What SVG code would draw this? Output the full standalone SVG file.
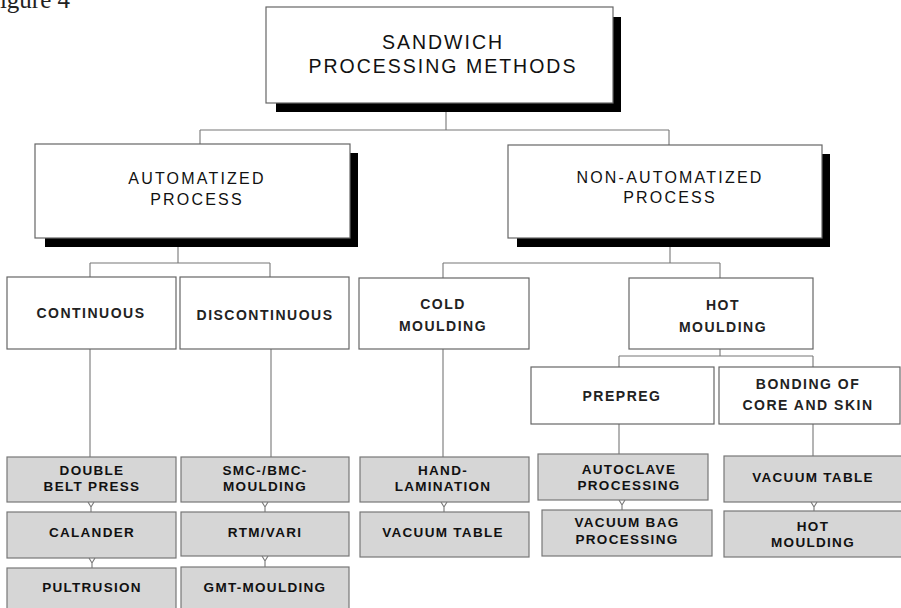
<svg xmlns="http://www.w3.org/2000/svg" width="901" height="608" viewBox="0 0 901 608">
<style>
.box{fill:#fff;stroke:#666;stroke-width:1.2}
.shadow{fill:#000}
.grey{fill:#d6d6d6;stroke:#777;stroke-width:1.2}
.conn{fill:none;stroke:#777;stroke-width:1.1}
.t1{font-family:"Liberation Sans",Arial,sans-serif;font-size:19.5px;letter-spacing:2px;fill:#111;text-anchor:middle}
.t2{font-family:"Liberation Sans",Arial,sans-serif;font-size:16px;letter-spacing:2.2px;fill:#111;text-anchor:middle}
.t3{font-family:"Liberation Sans",Arial,sans-serif;font-size:14px;font-weight:bold;letter-spacing:1.5px;fill:#222;text-anchor:middle}
.t4{font-family:"Liberation Sans",Arial,sans-serif;font-size:13.5px;font-weight:bold;letter-spacing:1.3px;fill:#111;text-anchor:middle}
.cap{font-family:"Liberation Serif","Times New Roman",serif;font-size:25px;fill:#222}
</style>
<rect width="901" height="608" fill="#fff"/>
<text class="cap" x="-14" y="8">Figure 4</text>

<g id="connectors">
  <path class="conn" d="M446 112V130M200 130H669M200 130V144M669 130V145"/>
  <path class="conn" d="M178 247V263M90 263H270M90 263V277M270 263V277"/>
  <path class="conn" d="M670 247V263M443 263H720M443 263V278M720 263V278"/>
  <path class="conn" d="M90 349V457M271 349V457M443 349V457"/>
  <path class="conn" d="M720 349V356M619 356H813M619 356V367M813 356V367"/>
  <path class="conn" d="M619 424V454M813 424V456"/>
  <path class="conn" d="M88 502L91 507L94 502M91 507V512"/>
  <path class="conn" d="M89 558L92 563L95 558M92 563V568"/>
  <path class="conn" d="M262 502L265 507L268 502M265 507V512"/>
  <path class="conn" d="M262 556L265 561L268 556M265 561V567"/>
  <path class="conn" d="M441 502L444 507L447 502M444 507V512"/>
  <path class="conn" d="M619 500L622 505L625 500M622 505V510"/>
  <path class="conn" d="M811 502L814 507L817 502M814 507V511"/>
</g>

<g id="n-sandwich">
  <rect class="shadow" x="276" y="17" width="345" height="95"/>
  <rect class="box" x="266" y="7" width="347" height="96"/>
  <text class="t1" x="443" y="49">SANDWICH</text>
  <text class="t1" x="443" y="73">PROCESSING METHODS</text>
</g>

<g id="n-auto">
  <rect class="shadow" x="45" y="153" width="313" height="94"/>
  <rect class="box" x="35" y="144" width="315" height="94"/>
  <text class="t2" x="197" y="184">AUTOMATIZED</text>
  <text class="t2" x="197" y="205">PROCESS</text>
</g>

<g id="n-nonauto">
  <rect class="shadow" x="517" y="154" width="313" height="93"/>
  <rect class="box" x="508" y="145" width="314" height="93"/>
  <text class="t2" x="670" y="183">NON-AUTOMATIZED</text>
  <text class="t2" x="670" y="203">PROCESS</text>
</g>

<g id="n-continuous">
  <rect class="box" x="7" y="277" width="169" height="72"/>
  <text class="t3" x="91" y="318">CONTINUOUS</text>
</g>
<g id="n-discontinuous">
  <rect class="box" x="180" y="277" width="169" height="72"/>
  <text class="t3" x="265" y="320">DISCONTINUOUS</text>
</g>
<g id="n-cold">
  <rect class="box" x="359" y="278" width="170" height="71"/>
  <text class="t3" x="443" y="309">COLD</text>
  <text class="t3" x="443" y="331">MOULDING</text>
</g>
<g id="n-hot">
  <rect class="box" x="629" y="278" width="184" height="71"/>
  <text class="t3" x="723" y="310">HOT</text>
  <text class="t3" x="723" y="332">MOULDING</text>
</g>
<g id="n-prepreg">
  <rect class="box" x="531" y="367" width="183" height="57"/>
  <text class="t3" x="622" y="401">PREPREG</text>
</g>
<g id="n-bonding">
  <rect class="box" x="719" y="367" width="181" height="57"/>
  <text class="t3" x="808" y="389">BONDING OF</text>
  <text class="t3" x="808" y="410">CORE AND SKIN</text>
</g>

<g id="n-doublebelt">
  <rect class="grey" x="7" y="457" width="169" height="45"/>
  <text class="t4" x="92" y="475">DOUBLE</text>
  <text class="t4" x="92" y="491">BELT PRESS</text>
</g>
<g id="n-calander">
  <rect class="grey" x="7" y="512" width="169" height="46"/>
  <text class="t4" x="92" y="537">CALANDER</text>
</g>
<g id="n-pultrusion">
  <rect class="grey" x="7" y="568" width="169" height="45"/>
  <text class="t4" x="92" y="592">PULTRUSION</text>
</g>
<g id="n-smc">
  <rect class="grey" x="181" y="457" width="168" height="45"/>
  <text class="t4" x="265" y="475">SMC-/BMC-</text>
  <text class="t4" x="265" y="491">MOULDING</text>
</g>
<g id="n-rtm">
  <rect class="grey" x="181" y="512" width="168" height="44"/>
  <text class="t4" x="265" y="537">RTM/VARI</text>
</g>
<g id="n-gmt">
  <rect class="grey" x="181" y="567" width="168" height="46"/>
  <text class="t4" x="265" y="592">GMT-MOULDING</text>
</g>
<g id="n-hand">
  <rect class="grey" x="360" y="457" width="169" height="45"/>
  <text class="t4" x="443" y="475">HAND-</text>
  <text class="t4" x="443" y="491">LAMINATION</text>
</g>
<g id="n-vactable1">
  <rect class="grey" x="360" y="512" width="169" height="45"/>
  <text class="t4" x="443" y="537">VACUUM TABLE</text>
</g>
<g id="n-autoclave">
  <rect class="grey" x="538" y="454" width="170" height="46"/>
  <text class="t4" x="629" y="474">AUTOCLAVE</text>
  <text class="t4" x="629" y="490">PROCESSING</text>
</g>
<g id="n-vacbag">
  <rect class="grey" x="542" y="510" width="170" height="46"/>
  <text class="t4" x="627" y="527">VACUUM BAG</text>
  <text class="t4" x="627" y="544">PROCESSING</text>
</g>
<g id="n-vactable2">
  <rect class="grey" x="724" y="456" width="178" height="46"/>
  <text class="t4" x="813" y="482">VACUUM TABLE</text>
</g>
<g id="n-hotmould2">
  <rect class="grey" x="724" y="511" width="178" height="46"/>
  <text class="t4" x="813" y="531">HOT</text>
  <text class="t4" x="813" y="547">MOULDING</text>
</g>
</svg>
